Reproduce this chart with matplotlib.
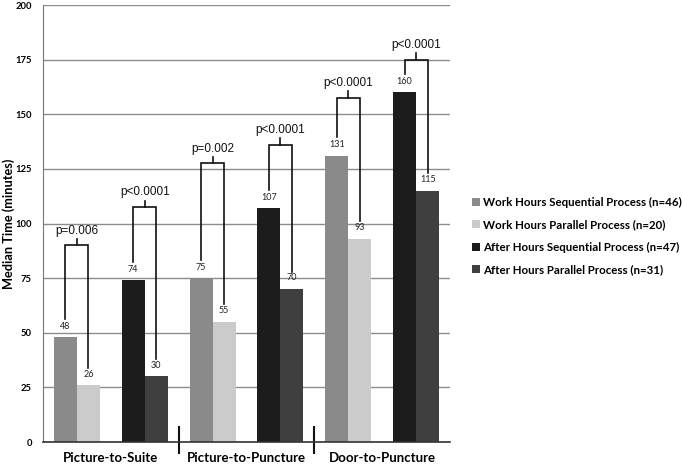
import numpy as np
import matplotlib.pyplot as plt

groups = ['Picture-to-Suite', 'Picture-to-Puncture', 'Door-to-Puncture']
series = ['Work Hours Sequential Process (n=46)',
          'Work Hours Parallel Process (n=20)',
          'After Hours Sequential Process (n=47)',
          'After Hours Parallel Process (n=31)']
work_seq = [48, 75, 131]
work_par = [26, 55, 93]
after_seq = [74, 107, 160]
after_par = [30, 70, 115]
p_text = ['p=0.006', 'p<0.0001', 'p=0.002', 'p<0.0001', 'p<0.0001', 'p<0.0001']
bracket_y = [90, 107.5, 127.5, 136, 157.5, 175]

colors = ['#8a8a8a', '#cbcbcb', '#1c1c1c', '#3f3f3f']
w = 0.34

fig = plt.figure(figsize=(6.82, 4.67), dpi=100)
ax = fig.add_axes([43 / 682, 25 / 467, 407 / 682, 437 / 467])

g = np.arange(len(groups))
slot_work = 2 * g
slot_after = 2 * g + 1
data = [(slot_work - w / 2, work_seq), (slot_work + w / 2, work_par),
        (slot_after - w / 2, after_seq), (slot_after + w / 2, after_par)]

for (xs, vals), c, lab in zip(data, colors, series):
    ax.bar(xs, vals, width=w, color=c, label=lab, zorder=2)
    for x, v in zip(xs, vals):
        ax.text(x, v + 3, str(v), ha='center', va='bottom', fontsize=6.5,
                family='Lato', color='#222222', zorder=3)

# brackets with p-values
pairs = []
for i in range(len(groups)):
    pairs.append((slot_work[i], work_seq[i], work_par[i]))
    pairs.append((slot_after[i], after_seq[i], after_par[i]))
for (s, a, b), yb, pt in zip(pairs, bracket_y, p_text):
    x1, x2 = s - w / 2, s + w / 2
    ax.plot([x1, x1, x2, x2], [a + 8.5, yb, yb, b + 8], color='#111111',
            lw=1.2, zorder=3, solid_joinstyle='miter')
    ax.plot([s, s], [yb, yb + 3], color='#111111', lw=1.2, zorder=3)
    ax.text(s, yb + 4, pt, ha='center', va='bottom', fontsize=8.5,
            family='Liberation Sans', color='#111111')

ax.set_xlim(-0.5, 5.5)
ax.set_ylim(0, 200)
ax.set_yticks(range(0, 201, 25))
ax.yaxis.grid(True, color='#8c8c8c', lw=1, zorder=0)
ax.set_axisbelow(True)
ax.set_xticks([])
ax.tick_params(axis='y', length=0, pad=8)
for lab in ax.get_yticklabels():
    lab.set_family('Lato')
    lab.set_fontsize(6.8)
    lab.set_fontweight('bold')
for sp in ['top', 'right']:
    ax.spines[sp].set_visible(False)
ax.spines['left'].set_color('#777777')
ax.spines['bottom'].set_color('#333333')
ax.spines['bottom'].set_linewidth(1.2)

ax.set_ylabel('Median Time (minutes)', fontsize=9.2, fontweight='bold',
              family='Lato')
ax.yaxis.set_label_coords(-28 / 407, 0.5)

# group labels and separators
for i, name in enumerate(groups):
    ax.text(2 * i + 0.5, -4.5, name, ha='center', va='top', fontsize=9.5,
            fontweight='bold', family='Lato')
for sx in [1.5, 3.5]:
    ax.plot([sx, sx], [-5, 7], color='#111111', lw=1.5, clip_on=False)

leg = fig.legend(loc='upper left', bbox_to_anchor=(466 / 682, 1 - 191 / 467),
                 frameon=False, borderpad=0, handlelength=0.7, handleheight=0.7,
                 handletextpad=0.3, labelspacing=1.0,
                 prop={'family': 'Lato', 'weight': 'bold', 'size': 8.3})

fig.savefig('out.png', dpi=100)
